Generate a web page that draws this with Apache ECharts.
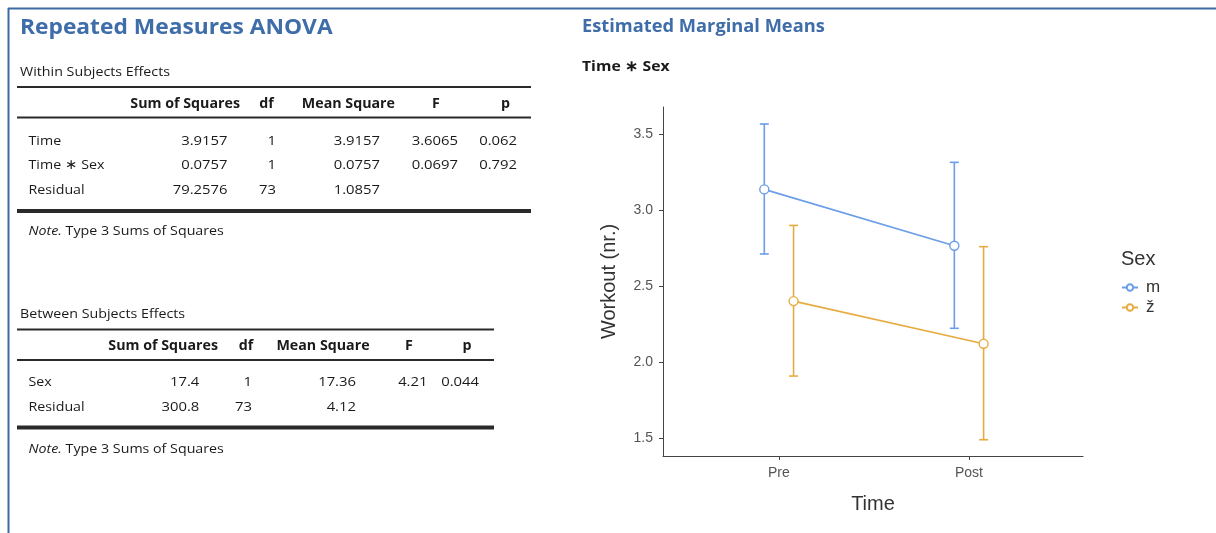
<!DOCTYPE html>
<html>
<head>
<meta charset="utf-8">
<script src="https://cdn.jsdelivr.net/npm/echarts@6/dist/echarts.min.js"></script>
<style>
html,body{margin:0;padding:0;background:#fff;}
#chart{width:1216px;height:533px;}
</style>
</head>
<body>
<div id="chart"></div>
<script>
// ---------- DATA ----------
const timeCategories = ['Pre', 'Post'];
const sexGroups = ['m', 'ž'];
const meanM = [3.136, 2.765];
const lowerM = [2.711, 2.222];
const upperM = [3.566, 3.314];
const meanZ = [2.401, 2.120];
const lowerZ = [1.908, 1.489];
const upperZ = [2.899, 2.759];
const yTicks = [1.5, 2.0, 2.5, 3.0, 3.5];

const tableHeaders = ['Sum of Squares', 'df', 'Mean Square', 'F', 'p'];
const withinLabels = ['Time', 'Time ∗ Sex', 'Residual'];
const withinSS = ['3.9157', '0.0757', '79.2576'];
const withinDf = ['1', '1', '73'];
const withinMS = ['3.9157', '0.0757', '1.0857'];
const withinF = ['3.6065', '0.0697', ''];
const withinP = ['0.062', '0.792', ''];

const betweenLabels = ['Sex', 'Residual'];
const betweenSS = ['17.4', '300.8'];
const betweenDf = ['1', '73'];
const betweenMS = ['17.36', '4.12'];
const betweenF = ['4.21', ''];
const betweenP = ['0.044', ''];

// ---------- STYLE / LAYOUT ----------
const BLUE = '#6B9DE8', ORANGE = '#E6AC40';
const HEAD = '#3E6DA9';
const TFONT = '"Open Sans", "Noto Sans", sans-serif';
const CFONT = '"Liberation Sans", Arial, sans-serif';
const TCOL = '#1a1a1a';
const dodge = 0.077;
const TXT_SX = 1.055, NUM_SX = 1.1;

const graphics = [];
function txt(s, x, y, opt, el) {
  opt = opt || {};
  graphics.push(Object.assign({
    type: 'text', x: x, y: y, silent: true, scaleX: TXT_SX,
    style: Object.assign({
      text: s, fill: TCOL, fontFamily: TFONT, fontSize: 13.5,
      align: 'left', verticalAlign: 'middle'
    }, opt)
  }, el || {}));
}
function hline(x1, x2, y, w, color) {
  graphics.push({
    type: 'line', silent: true,
    shape: { x1: x1, y1: y, x2: x2, y2: y },
    style: { stroke: color || '#2a2a2a', lineWidth: w }
  });
}
// frame
hline(8, 1216, 8.5, 2, '#3d6aa4');
graphics.push({ type: 'line', silent: true, shape: { x1: 8.5, y1: 8, x2: 8.5, y2: 533 }, style: { stroke: '#3d6aa4', lineWidth: 2 } });

// headings
txt('Repeated Measures ANOVA', 20, 28, { fontSize: 22, fontWeight: 'bold', fill: HEAD }, { scaleX: 1.035 });
txt('Estimated Marginal Means', 582, 27, { fontSize: 18, fontWeight: 'bold', fill: HEAD }, { scaleX: 1.015 });
txt('Time ∗ Sex', 582, 67, { fontSize: 15, fontWeight: 'bold', fill: TCOL }, { scaleX: 1.05 });

function drawTable(cfg) {
  txt(cfg.title, 20, cfg.titleY, {});
  hline(17, cfg.right, cfg.topLine, 2.2);
  cfg.headerPos.forEach(function (hp, i) {
    txt(tableHeaders[i], hp[0], cfg.headerY, { fontWeight: 'bold', align: hp[1] });
  });
  hline(17, cfg.right, cfg.midLine, 2.2);
  const cols = [cfg.ss, cfg.df, cfg.ms, cfg.f, cfg.p];
  cfg.labels.forEach(function (lab, r) {
    const y = cfg.rowY[r];
    txt(lab, 28.5, y);
    cols.forEach(function (col, c) {
      if (col[r]) txt(col[r], cfg.valRight[c], y, { align: 'right' }, { scaleX: NUM_SX });
    });
  });
  hline(17, cfg.right, cfg.bottomLine, 4);
  txt('{i|Note.} Type 3 Sums of Squares', 28.5, cfg.noteY, {
    rich: { i: { fontStyle: 'italic', fontFamily: TFONT, fontSize: 13.5, fill: TCOL } }
  });
}

drawTable({
  title: 'Within Subjects Effects', titleY: 72, right: 531,
  topLine: 87, midLine: 117.5, bottomLine: 211,
  headerY: 104,
  headerPos: [[240, 'right'], [266.5, 'center'], [395, 'right'], [436, 'center'], [505.5, 'center']],
  labels: withinLabels, rowY: [141.5, 165.5, 190],
  ss: withinSS, df: withinDf, ms: withinMS, f: withinF, p: withinP,
  valRight: [227.5, 276, 380, 458, 517],
  noteY: 231
});
drawTable({
  title: 'Between Subjects Effects', titleY: 314, right: 494,
  topLine: 329.5, midLine: 360, bottomLine: 427.5,
  headerY: 346.5,
  headerPos: [[218, 'right'], [246, 'center'], [369.6, 'right'], [409, 'center'], [467, 'center']],
  labels: betweenLabels, rowY: [382.5, 407],
  ss: betweenSS, df: betweenDf, ms: betweenMS, f: betweenF, p: betweenP,
  valRight: [199.3, 252, 356, 427.5, 479],
  noteY: 449
});

// ---------- CHART ----------
function pts(means, off) { return means.map(function (v, i) { return [i + off, v]; }); }
function bars(lo, hi, off) { return lo.map(function (v, i) { return [i + off, v, hi[i]]; }); }

function errRender(color) {
  return function (params, api) {
    const x = api.value(0);
    const a = api.coord([x, api.value(1)]);
    const b = api.coord([x, api.value(2)]);
    const hw = 4.5;
    const st = { stroke: color, lineWidth: 1.6 };
    return {
      type: 'group',
      children: [
        { type: 'line', shape: { x1: a[0], y1: a[1], x2: b[0], y2: b[1] }, style: st },
        { type: 'line', shape: { x1: a[0] - hw, y1: a[1], x2: a[0] + hw, y2: a[1] }, style: st },
        { type: 'line', shape: { x1: b[0] - hw, y1: b[1], x2: b[0] + hw, y2: b[1] }, style: st }
      ]
    };
  };
}

const axisText = { color: '#555', fontFamily: CFONT, fontSize: 14 };

const option = {
  backgroundColor: '#fff',
  animation: false,
  graphic: graphics,
  title: {
    text: 'Sex', left: 1116, top: 244,
    textStyle: { fontFamily: CFONT, fontSize: 20, fontWeight: 'normal', color: '#333' }
  },
  legend: {
    data: sexGroups,
    orient: 'vertical', left: 1116, top: 274,
    itemWidth: 16, itemHeight: 8, itemGap: 3,
    textStyle: { fontFamily: CFONT, fontSize: 17, color: '#333', padding: [0, 0, 0, 3] }
  },
  grid: { left: 663, top: 107, width: 420, height: 349, containLabel: false },
  xAxis: {
    type: 'value', min: -0.61, max: 1.6,
    name: 'Time', nameLocation: 'middle', nameGap: 38,
    nameTextStyle: { fontFamily: CFONT, fontSize: 20, color: '#333' },
    axisLine: { show: true, onZero: false, lineStyle: { color: '#444', width: 1 } },
    axisTick: { show: true, length: 4, customValues: [0, 1], lineStyle: { color: '#444' } },
    axisLabel: Object.assign({ margin: 10, customValues: [0, 1],
      formatter: function (v) { return timeCategories[Math.round(v)]; } }, axisText),
    splitLine: { show: false }
  },
  yAxis: {
    type: 'value', min: 1.382, max: 3.678,
    name: 'Workout (nr.)', nameLocation: 'middle', nameGap: 44,
    nameTextStyle: { fontFamily: CFONT, fontSize: 20, color: '#333' },
    axisLine: { show: true, onZero: false, lineStyle: { color: '#444', width: 1 } },
    axisTick: { show: true, length: 4, customValues: yTicks, lineStyle: { color: '#444' } },
    axisLabel: Object.assign({ margin: 10, customValues: yTicks,
      formatter: function (v) { return v.toFixed(1); } }, axisText),
    splitLine: { show: false }
  },
  series: [
    { type: 'custom', name: 'errM', renderItem: errRender(BLUE), data: bars(lowerM, upperM, -dodge),
      encode: { x: 0, y: [1, 2] }, z: 1, silent: true },
    { type: 'custom', name: 'errZ', renderItem: errRender(ORANGE), data: bars(lowerZ, upperZ, dodge),
      encode: { x: 0, y: [1, 2] }, z: 1, silent: true },
    { type: 'line', name: sexGroups[0], data: pts(meanM, -dodge), z: 3,
      symbol: 'circle', symbolSize: 9,
      lineStyle: { color: BLUE, width: 1.6 },
      itemStyle: { color: '#fff', borderColor: BLUE, borderWidth: 1.4 } },
    { type: 'line', name: sexGroups[1], data: pts(meanZ, dodge), z: 3,
      symbol: 'circle', symbolSize: 9,
      lineStyle: { color: ORANGE, width: 1.6 },
      itemStyle: { color: '#fff', borderColor: ORANGE, borderWidth: 1.4 } }
  ]
};

const chart = echarts.init(document.getElementById('chart'), null, { renderer: 'canvas' });
chart.setOption(option);
</script>
</body>
</html>
